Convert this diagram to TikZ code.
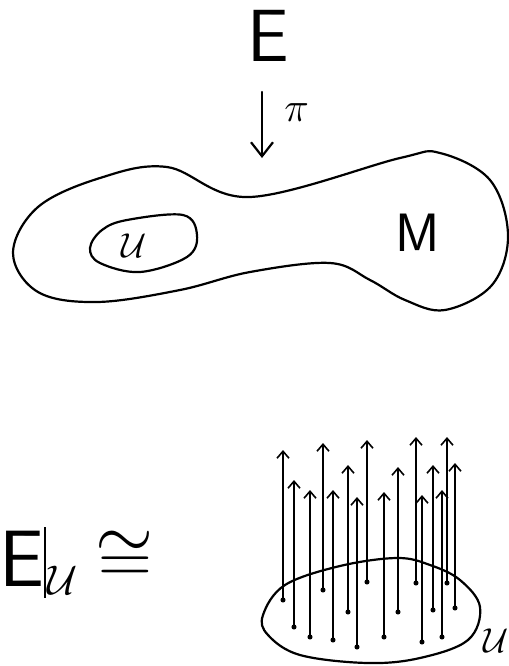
\documentclass[tikz,border=0pt]{standalone}
\usepackage{amsmath,amssymb}
\usepackage{tikz}
\usetikzlibrary{arrows.meta}

\begin{document}
\begin{tikzpicture}[
  x=0.5pt, y=-0.5pt,
  every node/.style={inner sep=0pt},
  pen/.style={line width=1.1pt, line join=round, line cap=round},
  proj/.style={line width=1.1pt, line cap=round, -{Straight Barb[length=7pt, width=11pt, line width=1.1pt]}},
  fiber/.style={line width=0.6pt, -{Straight Barb[length=3.5pt, width=6pt, line width=0.8pt]}},
  foot/.style={fill=black, circle, inner sep=0.9pt}
]
\useasboundingbox (0,0) rectangle (509,666);

% ====== TOP SECTION: Bundle over M ======
\node[font=\fontsize{37}{40}\selectfont\sffamily] (E) at (268,36) {E};
\coordinate (piTop) at (262,92);
\coordinate (piEnd) at (262,158);
\draw[proj] (piTop) -- (piEnd);
\node[font=\fontsize{22}{24}\selectfont, anchor=west] (pi) at (284,113) {$\pi$};

\draw[pen] plot[smooth cycle, tension=0.6] coordinates {
  (167,167) (250,197) (400,158) (440,153) (490,180) (508,235) (492,285)
  (445,310) (405,300) (370,280) (330,263) (250,272) (180,290)
  (97,302) (38,292) (13,253) (38,207) (100,178)};
\draw[pen] plot[smooth cycle, tension=0.6] coordinates {
  (183,215) (197,235) (187,257) (140,272) (100,263) (90,248) (102,230) (127,220)};
\node[font=\fontsize{17}{20}\selectfont] (U) at (134,246) {$\mathcal{U}$};
\node[font=\fontsize{27}{30}\selectfont\sffamily] (M) at (418,233) {M};

% ====== BOTTOM SECTION: Restriction to U ======
\node[font=\fontsize{40}{44}\selectfont\sffamily] (EU) at (22,559) {E};
\draw[line width=1pt] (45,527) -- (45,598);
\node[font=\fontsize{20}{22}\selectfont] (sub) at (63,580) {$\mathcal{U}$};
\node[font=\fontsize{24}{26}\selectfont] (iso) at (125,557) {\scalebox{1.5}{$\cong$}};

\draw[pen] plot[smooth cycle, tension=0.6] coordinates {
  (397,558) (430,565) (460,580) (480,607) (468,640) (420,658)
  (367,663) (300,655) (268,635) (263,615) (285,585) (340,566)};
\foreach \x/\b/\t in {283/600/450, 294/627/480, 310/637/490, 323/590/443,
  333/640/490, 348/612/465, 357/647/497, 367/582/440, 384/637/492,
  398/612/467, 416/583/437, 422/642/495, 433/610/465, 442/637/490,
  447/583/437, 455/608/463}{
  \node[foot] (b\x) at (\x,\b) {};
  \coordinate (t\x) at (\x,\t);
  \draw[fiber] (b\x.center) -- (t\x);
}
\node[font=\fontsize{17}{20}\selectfont] (Ulab) at (496,641) {$\mathcal{U}$};

\end{tikzpicture}
\end{document}
